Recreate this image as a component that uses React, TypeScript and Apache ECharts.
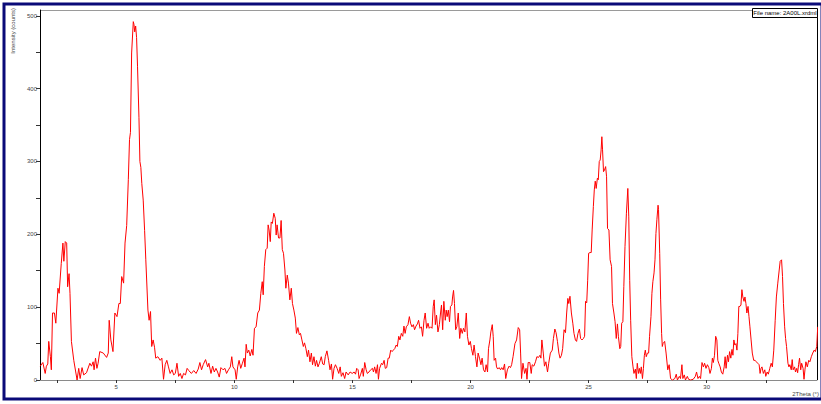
import React, { useEffect, useRef } from "react";
import * as echarts from "echarts";

const twoTheta: number[] = [
  1.78, 1.89, 1.99, 2.04, 2.1, 2.14, 2.21, 2.25, 2.3, 2.38, 2.44, 2.53, 2.58, 2.67, 2.74, 2.78, 2.84, 2.9, 2.94, 3.0,
  3.04, 3.1, 3.2, 3.34, 3.41, 3.47, 3.55, 3.62, 3.74, 3.88, 3.95, 4.02, 4.06, 4.12, 4.18, 4.23, 4.3, 4.45, 4.59, 4.66,
  4.7, 4.77, 4.86, 4.94, 5.03, 5.11, 5.17, 5.23, 5.31, 5.37, 5.44, 5.51, 5.56, 5.6, 5.65, 5.72, 5.75, 5.78, 5.82, 5.86,
  5.9, 5.96, 6.0, 6.04, 6.08, 6.14, 6.2, 6.25, 6.34, 6.39, 6.45, 6.5, 6.56, 6.62, 6.67, 6.76, 6.86, 6.93, 7.0, 7.07,
  7.14, 7.21, 7.28, 7.36, 7.43, 7.5, 7.57, 7.64, 7.71, 7.78, 7.85, 7.93, 8.0, 8.07, 8.18, 8.28, 8.38, 8.47,
  8.54, 8.61, 8.68, 8.78, 8.87, 8.92, 9.01, 9.08, 9.15, 9.22, 9.29, 9.36, 9.43, 9.52, 9.6, 9.67, 9.75, 9.83, 9.89, 9.94,
  10.03, 10.08, 10.14, 10.2, 10.27, 10.34, 10.41, 10.45, 10.5, 10.55, 10.61, 10.67, 10.74, 10.79, 10.85, 10.92, 10.99, 11.06, 11.12, 11.18,
  11.22, 11.27, 11.33, 11.39, 11.43, 11.47, 11.52, 11.56, 11.61, 11.67, 11.73, 11.77, 11.81, 11.87, 11.93, 11.98, 12.03, 12.08, 12.14, 12.18,
  12.24, 12.29, 12.35, 12.41, 12.46, 12.52, 12.58, 12.63, 12.69, 12.75, 12.8, 12.86, 12.92, 12.97, 13.03, 13.09, 13.14, 13.2, 13.26, 13.31,
  13.37, 13.43, 13.48, 13.54, 13.6, 13.68, 13.74, 13.8, 13.85, 13.92, 13.99, 14.05, 14.11, 14.16, 14.22, 14.28, 14.35, 14.42, 14.48, 14.53,
  14.6, 14.67, 14.73, 14.82, 14.9, 14.99,
  15.07, 15.13, 15.18, 15.24, 15.28, 15.35, 15.42, 15.46, 15.52, 15.58, 15.63, 15.7, 15.77, 15.85, 15.89, 15.94, 16.0, 16.06, 16.1, 16.15,
  16.23, 16.28, 16.34, 16.39, 16.45, 16.51, 16.56, 16.62, 16.68, 16.73, 16.79, 16.85, 16.9, 16.96, 17.01, 17.07, 17.13, 17.18, 17.23, 17.28,
  17.35, 17.41, 17.46, 17.52, 17.58, 17.63, 17.69, 17.75, 17.8, 17.86, 17.92, 17.97, 18.03, 18.08, 18.14, 18.2, 18.25, 18.31, 18.37, 18.42,
  18.46, 18.51, 18.56, 18.62, 18.68, 18.73, 18.77, 18.82, 18.87, 18.93, 18.97, 19.01, 19.06, 19.11, 19.15, 19.21, 19.24, 19.28, 19.32, 19.37,
  19.42, 19.48, 19.54, 19.59, 19.65, 19.7, 19.76, 19.82, 19.87, 19.93, 19.99, 20.04, 20.1, 20.15, 20.21, 20.27, 20.32, 20.38, 20.44, 20.49,
  20.55, 20.61, 20.66, 20.72, 20.76, 20.82, 20.86, 20.92, 20.96, 21.0, 21.06, 21.1, 21.15, 21.21, 21.27, 21.32, 21.38, 21.44, 21.49,
  21.56, 21.63, 21.69, 21.74, 21.8, 21.88, 21.95, 22.02, 22.08, 22.12, 22.16, 22.22, 22.29, 22.35, 22.39, 22.44, 22.51, 22.57, 22.61, 22.68,
  22.75, 22.81, 22.88, 22.94, 22.98, 23.02, 23.08, 23.13, 23.19, 23.26, 23.31, 23.38, 23.46, 23.51, 23.57, 23.62, 23.68, 23.74, 23.79, 23.85,
  23.9, 23.96, 24.02, 24.07, 24.12, 24.16, 24.21, 24.27, 24.33, 24.38, 24.44, 24.49, 24.55, 24.61, 24.66, 24.72, 24.78, 24.83, 24.87, 24.92,
  24.96, 25.0, 25.06, 25.11, 25.15, 25.2, 25.24, 25.28, 25.32, 25.37, 25.41, 25.45, 25.49, 25.53, 25.56, 25.59, 25.63, 25.67, 25.72, 25.76,
  25.8, 25.86, 25.91, 25.97, 26.01, 26.07, 26.12, 26.17, 26.22, 26.26, 26.32, 26.36, 26.4, 26.45, 26.49, 26.54, 26.6, 26.66, 26.7, 26.74,
  26.78, 26.83, 26.88, 26.92, 26.98, 27.02, 27.06, 27.11, 27.15, 27.19, 27.23, 27.28, 27.32, 27.36, 27.4, 27.44, 27.49, 27.54, 27.58, 27.64,
  27.68, 27.72, 27.77, 27.81, 27.85, 27.89, 27.94, 27.96, 28.01, 28.05, 28.09,
  28.12, 28.15, 28.22, 28.28, 28.35, 28.41, 28.47, 28.55, 28.65, 28.71, 28.76, 28.84, 28.89, 28.95, 28.99, 29.05, 29.1, 29.18, 29.23, 29.32,
  29.43, 29.52, 29.57, 29.63, 29.69, 29.74, 29.8, 29.86, 29.91, 29.97, 30.03, 30.09, 30.14, 30.2, 30.24, 30.28, 30.33, 30.38, 30.43, 30.47,
  30.51, 30.57, 30.62, 30.68, 30.74, 30.78, 30.82, 30.88, 30.92, 30.97, 31.02, 31.07, 31.11, 31.15, 31.19, 31.24, 31.28, 31.32, 31.36, 31.41,
  31.45, 31.49, 31.53, 31.58, 31.62, 31.66, 31.7, 31.75, 31.79, 31.83, 31.88, 31.93, 31.99, 32.05, 32.1, 32.16, 32.22, 32.26, 32.3, 32.34,
  32.4, 32.46, 32.5, 32.56, 32.61, 32.67, 32.73, 32.78, 32.84, 32.9, 32.95, 33.01, 33.07, 33.11, 33.17, 33.21, 33.25, 33.3, 33.34, 33.38,
  33.44, 33.48, 33.52, 33.58, 33.62, 33.66, 33.72, 33.76, 33.81, 33.85, 33.89, 33.93, 33.98, 34.02, 34.08, 34.12, 34.16, 34.2, 34.26, 34.32,
  34.37, 34.43, 34.49, 34.55, 34.6, 34.66, 34.7,
];

const counts: number[] = [
  19, 24, 9, 19, 22, 53, 32, 14, 92, 92, 78, 126, 119, 160, 188, 163, 190, 188, 128, 146,
  119, 53, 27, 0, 16, 2, 17, 7, 10, 23, 19, 25, 14, 30, 16, 23, 39, 37, 31, 37,
  82, 55, 39, 92, 87, 105, 105, 142, 133, 188, 212, 275, 330, 340, 449, 492, 488, 478, 486, 470,
  430, 360, 300, 292, 270, 247, 205, 165, 96, 82, 94, 46, 55, 45, 30, 32, 27, 30, 1, 21,
  27, 18, 9, 14, 7, 9, 23, 5, 9, 2, 9, 7, 16, 13, 9, 13, 9, 15,
  24, 14, 21, 28, 18, 23, 9, 19, 11, 16, 11, 4, 17, 14, 16, 9, 14, 18, 32, 18,
  14, 1, 18, 27, 16, 23, 30, 18, 49, 37, 41, 33, 42, 34, 71, 73, 92, 96, 119, 135,
  117, 156, 179, 181, 213, 206, 190, 217, 215, 229, 222, 199, 213, 195, 195, 219, 179, 174, 151, 126,
  144, 133, 110, 126, 105, 96, 85, 64, 72, 62, 64, 55, 46, 51, 43, 32, 41, 25, 37, 21,
  32, 19, 27, 18, 23, 32, 22, 21, 32, 40, 27, 14, 22, 1, 16, 21, 16, 9, 18, 5,
  10, 2, 11, 7, 11, 9,
  11, 8, 16, 14, 2, 8, 16, 5, 24, 14, 9, 11, 14, 16, 11, 18, 9, 21, 1, 16,
  23, 21, 27, 16, 17, 30, 30, 41, 39, 41, 43, 48, 46, 60, 55, 64, 60, 74, 64, 73,
  76, 87, 78, 73, 76, 69, 74, 77, 82, 71, 73, 60, 82, 92, 71, 78, 71, 73, 71, 101,
  110, 76, 89, 66, 76, 92, 103, 69, 108, 82, 96, 87, 96, 80, 101, 103, 114, 123, 105, 69,
  73, 92, 57, 71, 64, 71, 66, 92, 60, 48, 53, 43, 34, 48, 32, 18, 37, 30, 21, 30,
  14, 11, 21, 11, 43, 55, 66, 76, 60, 27, 30, 18, 15, 17, 14, 17, 14, 22, 2,
  14, 19, 17, 21, 32, 50, 55, 72, 69, 37, 2, 23, 9, 16, 1, 24, 24, 9, 21, 19,
  25, 32, 31, 34, 30, 55, 37, 19, 25, 11, 23, 37, 41, 57, 70, 65, 53, 37, 30, 34,
  43, 69, 65, 92, 112, 105, 115, 92, 78, 64, 55, 53, 64, 70, 57, 55, 57, 60, 108, 106,
  137, 174, 175, 175, 206, 238, 261, 273, 263, 277, 275, 300, 302, 316, 334, 316, 286, 288, 293, 279,
  208, 206, 165, 156, 105, 92, 80, 57, 77, 60, 43, 46, 78, 80, 128, 183, 229, 263, 224, 137,
  82, 32, 18, 9, 15, 2, 23, 9, 16, 9, 18, 2, 16, 34, 41, 32, 37, 37, 60, 87,
  119, 135, 147, 165, 201, 220, 240, 234, 174, 110, 64,
  46, 50, 53, 37, 14, 21, 2, 0, 2, 8, 0, 5, 2, 21, 2, 7, 0, 5, 1, 0,
  1, 5, 11, 2, 5, 2, 24, 18, 23, 16, 21, 17, 9, 16, 30, 24, 34, 60, 55, 27,
  23, 18, 11, 8, 18, 32, 16, 34, 25, 39, 30, 42, 34, 55, 48, 50, 41, 64, 101, 101,
  103, 124, 114, 108, 114, 105, 92, 101, 87, 73, 55, 37, 27, 27, 25, 23, 21, 9, 16, 18,
  9, 14, 5, 11, 8, 16, 23, 18, 41, 82, 114, 133, 151, 163, 165, 142, 105, 73, 57, 46,
  23, 18, 21, 14, 28, 14, 18, 11, 16, 10, 21, 30, 14, 23, 16, 1, 14, 25, 18, 27,
  25, 32, 37, 41, 39, 46, 73,
];

const xLabelValues: number[] = [5, 10, 15, 20, 25, 30];
const xTickValues: number[] = [2.5, 5, 7.5, 10, 12.5, 15, 17.5, 20, 22.5, 25, 27.5, 30, 32.5];
const yLabelValues: number[] = [0, 100, 200, 300, 400, 500];
const yTickValues: number[] = [0, 50, 100, 150, 200, 250, 300, 350, 400, 450, 500];

const yTitle = "Intensity (counts)";
const xTitle = "2Theta (°)";
const fileLabel = "File name: 2A00L.xrdml";

export default function App() {
  const ref = useRef<HTMLDivElement>(null);

  useEffect(() => {
    if (!ref.current) return;
    const chart = echarts.init(ref.current, null, { renderer: "svg" });
    const data = twoTheta.map((x, i) => [x, counts[i]]);
    const font = "Liberation Sans, Arial, sans-serif";
    chart.setOption({
      animation: false,
      backgroundColor: "#ffffff",
      grid: { left: 40, top: 10, width: 777, height: 370, containLabel: false },
      xAxis: {
        type: "value",
        min: 1.77,
        max: 34.67,
        splitLine: { show: false },
        axisLine: { show: true, lineStyle: { color: "#8a8a8a", width: 1 } },
        axisTick: {
          show: true,
          length: 3,
          inside: false,
          customValues: xTickValues,
          lineStyle: { color: "#333333", width: 1 },
        },
        axisLabel: {
          customValues: xLabelValues,
          fontSize: 6,
          color: "#444444",
          fontFamily: font,
          margin: 4,
        },
      },
      yAxis: {
        type: "value",
        min: 0,
        max: 508,
        splitLine: { show: false },
        axisLine: { show: true, lineStyle: { color: "#000000", width: 1 } },
        axisTick: {
          show: true,
          length: 4,
          customValues: yTickValues,
          lineStyle: { color: "#333333", width: 1 },
        },
        axisLabel: {
          customValues: yLabelValues,
          fontSize: 6,
          color: "#444444",
          fontFamily: font,
          margin: 3,
        },
      },
      series: [
        {
          type: "line",
          data,
          showSymbol: false,
          symbol: "none",
          clip: true,
          lineStyle: { color: "#ff0000", width: 1 },
        },
      ],
      graphic: [
        {
          type: "rect",
          shape: { x: 4, y: 4, width: 818, height: 395 },
          style: { fill: "none", stroke: "#0a0a78", lineWidth: 3 },
          silent: true,
          z: 10,
        },
        {
          type: "line",
          shape: { x1: 40, y1: 10.5, x2: 817, y2: 10.5 },
          style: { stroke: "#9a9a9a", lineWidth: 1 },
          silent: true,
        },
        {
          type: "line",
          shape: { x1: 817.5, y1: 10, x2: 817.5, y2: 380 },
          style: { stroke: "#000000", lineWidth: 1 },
          silent: true,
        },
        {
          type: "rect",
          shape: { x: 752.5, y: 8.5, width: 65, height: 9 },
          style: { fill: "#ffffff", stroke: "#000000", lineWidth: 1 },
          silent: true,
          z: 5,
        },
        {
          type: "text",
          x: 785,
          y: 13.2,
          z: 6,
          style: {
            text: fileLabel,
            fontSize: 6,
            fontFamily: font,
            fill: "#000000",
            align: "center",
            verticalAlign: "middle",
          },
          silent: true,
        },
        {
          type: "text",
          x: 13,
          y: 8,
          rotation: Math.PI / 2,
          style: {
            text: yTitle,
            fontSize: 6,
            fontFamily: font,
            fill: "#444444",
            align: "right",
            verticalAlign: "middle",
          },
          silent: true,
        },
        {
          type: "text",
          x: 819,
          y: 394,
          z: 11,
          style: {
            text: xTitle,
            fontSize: 6,
            fontFamily: font,
            fill: "#444444",
            align: "right",
            verticalAlign: "middle",
          },
          silent: true,
        },
      ],
    });
    return () => chart.dispose();
  }, []);

  return (
    <div
      ref={ref}
      style={{ position: "absolute", left: 0, top: 0, width: 821, height: 404 }}
    />
  );
}
